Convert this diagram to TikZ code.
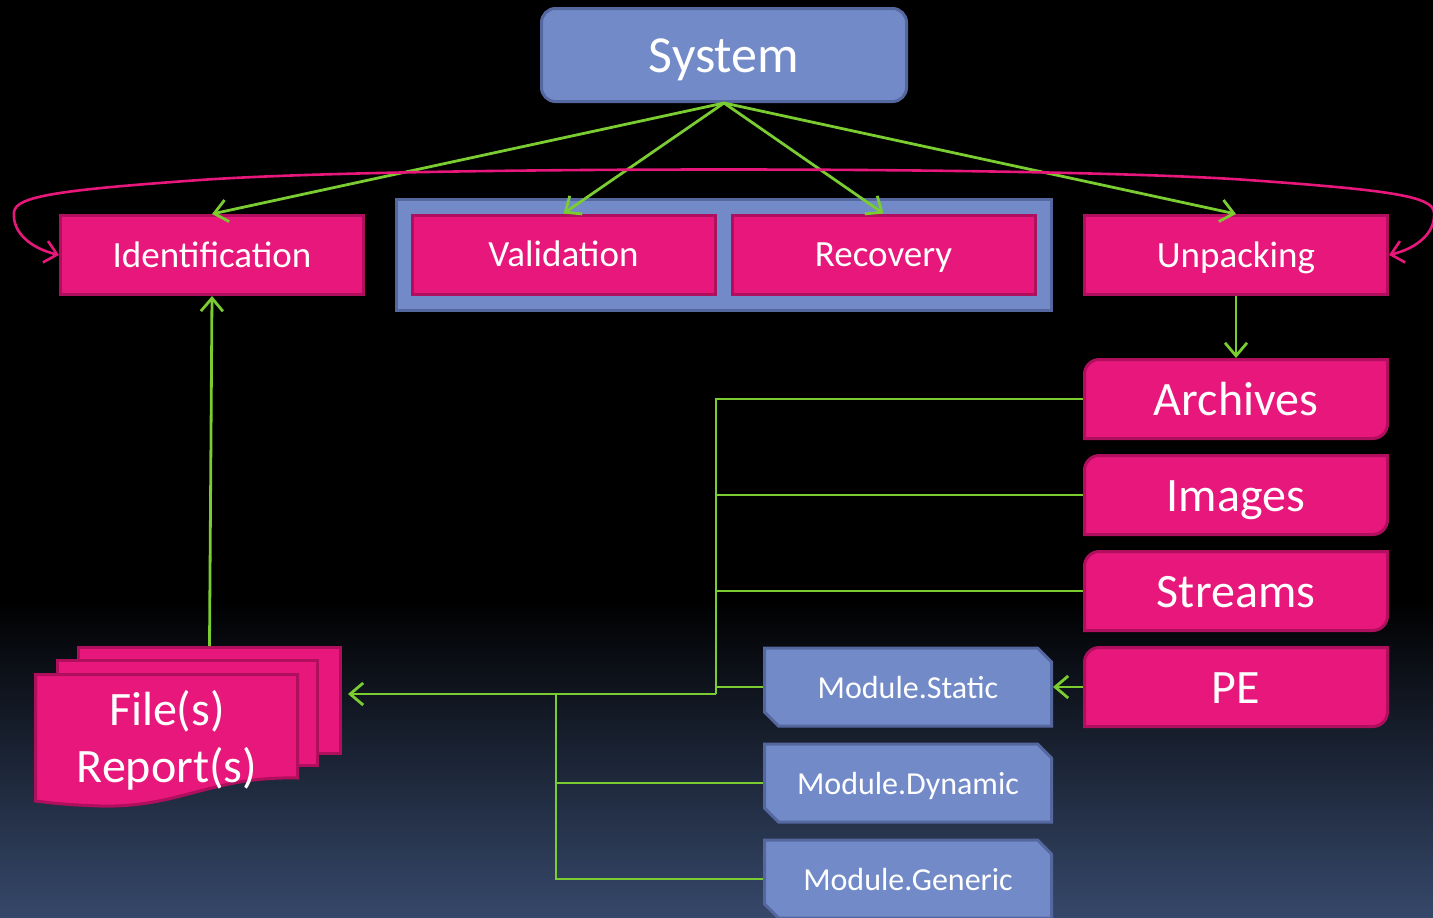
\documentclass[tikz,border=0pt]{standalone}
\usepackage{fontspec}
\setmainfont{Carlito}
\usetikzlibrary{arrows.meta,calc}
\pgfdeclarelayer{back}
\pgfsetlayers{back,main}
\definecolor{pinkf}{HTML}{E8177B}
\definecolor{pinkd}{HTML}{B00F5E}
\definecolor{bluef}{HTML}{728BC8}
\definecolor{blued}{HTML}{55679F}
\definecolor{gline}{HTML}{7ACC30}
\definecolor{bgbot}{HTML}{36486A}
\tikzset{
  pinkshape/.style={fill=pinkf,draw=pinkd,line width=3pt},
  blueshape/.style={fill=bluef,draw=blued,line width=3pt},
  pinkbox/.style={pinkshape,text=white,minimum width=303,minimum height=79,inner sep=0pt,text height=32pt,text depth=8pt,font=\fontsize{37}{44}\selectfont},
  bigtxt/.style={text=white,minimum width=303,minimum height=79,inner sep=0pt,outer sep=1.5pt,text height=42pt,text depth=10pt,font=\fontsize{48}{56}\selectfont},
  modtxt/.style={text=white,minimum width=287,minimum height=78,inner sep=0pt,outer sep=1.5pt,text height=28pt,text depth=6pt,font=\fontsize{32}{38}\selectfont},
  conn/.style={draw=gline,line width=2.8pt},
  garrow/.style={conn,-{Straight Barb[length=13pt,width=22pt]}},
  pinkline/.style={draw=pinkf,line width=2.6pt},
  rdiag/.pic={\path[pinkshape] (-151.5,39.5) -- (-151.5,-24.5) .. controls (-151.5,-33) and (-145,-39.5) .. (-136.5,-39.5) -- (151.5,-39.5) -- (151.5,24.5) .. controls (151.5,33) and (145,39.5) .. (136.5,39.5) -- cycle;},
  sdiag/.pic={\path[blueshape] (-143.5,-39) -- (129.5,-39) -- (143.5,-25) -- (143.5,39) -- (-129.5,39) -- (-143.5,25) -- cycle;},
}
\begin{document}
\begin{tikzpicture}[x=1pt,y=-1pt]
\useasboundingbox (0,0) rectangle (1433,918);
% main nodes
\node[blueshape,rounded corners=14pt,minimum width=365,minimum height=93,inner sep=0pt,text height=44pt,text depth=10pt,text=white,font=\fontsize{52}{60}\selectfont] (system) at (724,55) {System};
\node[blueshape,minimum width=655,minimum height=111,inner sep=0pt] (group) at (724,255) {};
\node[pinkbox] (ident) at (212,255) {Identification};
\node[pinkbox] (valid) at (563.5,254.5) {Validation};
\node[pinkbox] (recov) at (883.5,254.5) {Recovery};
\node[pinkbox] (unpack) at (1236,255) {Unpacking};
\node[bigtxt] (arch) at (1236,399) {Archives};
\node[bigtxt] (img) at (1236,495) {Images};
\node[bigtxt] (strm) at (1236,591) {Streams};
\node[bigtxt] (pe) at (1236,687) {PE};
\node[modtxt] (mstat) at (908,687) {Module.Static};
\node[modtxt] (mdyn) at (908,783) {Module.Dynamic};
\node[modtxt] (mgen) at (908,879) {Module.Generic};
\node[text=white,align=center,inner sep=0pt,font=\fontsize{48}{57}\selectfont] (files) at (167,740) {File(s)\\Report(s)};
% background layer
\begin{pgfonlayer}{back}
\fill[black] (0,0) rectangle (1433,601);
\shade[top color=black,bottom color=bgbot] (0,600) rectangle (1433,918);
\node[pinkshape,minimum width=262,minimum height=106,inner sep=0pt] (d3) at (209.5,700.5) {};
\node[pinkshape,minimum width=260,minimum height=105,inner sep=0pt] (d2) at (187.5,713) {};
\path[pinkshape] (35.5,674.5) -- (297.5,674.5) -- (297.5,778) .. controls (210,776) and (180,808) .. (100,806) .. controls (70,805) and (50,803) .. (35.5,801) -- cycle;
\pic at (1236,399) {rdiag};
\pic at (1236,495) {rdiag};
\pic at (1236,591) {rdiag};
\pic at (1236,687) {rdiag};
\pic at (908,687) {sdiag};
\pic at (908,783) {sdiag};
\pic at (908,879) {sdiag};
\end{pgfonlayer}
% connectors
\draw[garrow] (system.south) -- (ident.north);
\draw[garrow] (system.south) -- (valid.north);
\draw[garrow] (system.south) -- (recov.north);
\draw[garrow] (system.south) -- (unpack.north);
\draw[pinkline,{Straight Barb[length=12pt,width=22pt]}-{Straight Barb[length=12pt,width=22pt]}] (ident.west) .. controls (30,248) and (12,232) .. (14,212) .. controls (16,196) and (60,190) .. (200,180) .. controls (400,166) and (1048,166) .. (1248,180) .. controls (1388,190) and (1432,196) .. (1434,212) .. controls (1436,232) and (1418,248) .. (unpack.east);
\draw[garrow] (unpack.south) -- (arch.north);
\draw[garrow] (d3.north) -- (ident.south);
\coordinate (bus) at (716,694);
\coordinate (bus2) at (556,694);
\draw[conn] (arch.west) -- (arch.west -| bus) -- (bus);
\draw[conn] (img.west) -- (img.west -| bus);
\draw[conn] (strm.west) -- (strm.west -| bus);
\draw[conn] (mstat.west) -- (mstat.west -| bus);
\draw[garrow,shorten >=6pt] (bus) -- (bus -| d3.east);
\draw[conn] (bus2) |- (mdyn.west);
\draw[conn] (bus2) |- (mgen.west);
\draw[garrow] (pe.west) -- (mstat.east);
\end{tikzpicture}
\end{document}
